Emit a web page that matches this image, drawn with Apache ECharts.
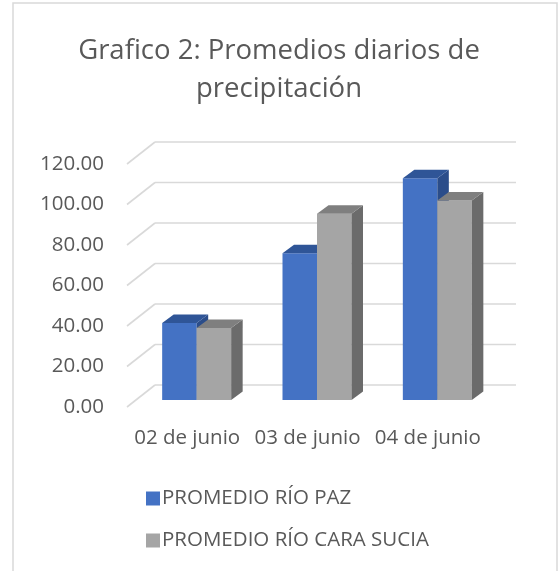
<!DOCTYPE html>
<html>
<head>
<meta charset="utf-8">
<script src="https://cdn.jsdelivr.net/npm/echarts@6/dist/echarts.min.js"></script>
<style>
  html, body { margin: 0; padding: 0; background: #fff; }
  #chart { width: 558px; height: 571px; }
</style>
</head>
<body>
<div id="chart"></div>
<script>
var categories = ['02 de junio', '03 de junio', '04 de junio'];
var rioPaz = [38.0, 72.5, 109.5];
var rioCaraSucia = [35.6, 92.0, 98.5];
var yTicks = [0, 20, 40, 60, 80, 100, 120];

var FONT = 'Open Sans';
var DEPTH_X = 28, DEPTH_Y = 22;   // side wall depth
var BAR_DX = 9.5, BAR_DY = 7;     // bar row sits a bit behind the front plane
var CAP_X = 11.5, CAP_Y = 8.5;    // bar depth
var BAR_W = 34.5;

var chart = echarts.init(document.getElementById('chart'));

function wallItem(params, api) {
    var cs = params.coordSys;
    var p = api.coord([0, api.value(0)]);
    var y = p[1];
    var style = { stroke: '#d9d9d9', lineWidth: 1.6, fill: null };
    return {
        type: 'group',
        children: [
            { type: 'line', shape: { x1: cs.x, y1: y, x2: cs.x + DEPTH_X, y2: y - DEPTH_Y }, style: style },
            { type: 'line', shape: { x1: cs.x + DEPTH_X, y1: y - DEPTH_Y, x2: cs.x + cs.width + DEPTH_X, y2: y - DEPTH_Y }, style: style }
        ]
    };
}

function barMaker(shift, front, top, side) {
    return function (params, api) {
        var top0 = api.coord([api.value(0), api.value(1)]);
        var base = api.coord([api.value(0), 0]);
        var x0 = top0[0] + BAR_DX + shift;
        var x1 = x0 + BAR_W;
        var yt = top0[1] - BAR_DY;
        var yb = base[1] - BAR_DY;
        return {
            type: 'group',
            children: [
                { type: 'polygon', shape: { points: [[x0, yt], [x1, yt], [x1, yb], [x0, yb]] }, style: { fill: front } },
                { type: 'polygon', shape: { points: [[x1, yt], [x1 + CAP_X, yt - CAP_Y], [x1 + CAP_X, yb - CAP_Y], [x1, yb]] }, style: { fill: side } },
                { type: 'polygon', shape: { points: [[x0, yt], [x1, yt], [x1 + CAP_X, yt - CAP_Y], [x0 + CAP_X, yt - CAP_Y]] }, style: { fill: top } }
            ]
        };
    };
}

var option = {
    animation: false,
    title: {
        text: 'Grafico 2: Promedios diarios de\nprecipitación',
        left: 'center',
        top: 27,
        textStyle: { fontFamily: FONT, fontSize: 27.5, fontWeight: 'normal', color: '#595959', lineHeight: 38 }
    },
    legend: {
        orient: 'vertical',
        left: 141,
        top: 483,
        itemGap: 21,
        itemWidth: 14,
        itemHeight: 14,
        icon: 'rect',
        data: ['PROMEDIO RÍO PAZ', 'PROMEDIO RÍO CARA SUCIA'],
        textStyle: { fontFamily: FONT, fontSize: 20.5, color: '#595959', padding: [0, 0, 0, -3] }
    },
    graphic: [{
        type: 'rect',
        shape: { x: 13, y: 3, width: 544, height: 620 },
        style: { fill: null, stroke: '#d9d9d9', lineWidth: 1.5 },
        silent: true
    }],
    grid: { left: 127, top: 164, width: 361, height: 243 },
    xAxis: {
        type: 'category',
        data: categories,
        axisLine: { show: false },
        axisTick: { show: false },
        axisLabel: { fontFamily: FONT, fontSize: 20.5, color: '#595959', margin: 21, interval: 0, hideOverlap: false }
    },
    yAxis: {
        type: 'value',
        min: 0,
        max: 120,
        interval: 20,
        axisLine: { show: false },
        axisTick: { show: false },
        splitLine: { show: false },
        axisLabel: { fontFamily: FONT, fontSize: 20.5, color: '#595959', margin: 23,
            formatter: function (v) { return v.toFixed(2); } }
    },
    series: [
        {
            type: 'custom',
            silent: true,
            renderItem: wallItem,
            data: yTicks.map(function (v) { return [v]; }),
            encode: { y: 0 },
            z: 1
        },
        {
            name: 'PROMEDIO RÍO PAZ',
            type: 'custom',
            itemStyle: { color: '#4472c4' },
            renderItem: barMaker(-BAR_W, '#4472c4', '#2f5597', '#2b4d8a'),
            data: rioPaz.map(function (v, i) { return [i, v]; }),
            encode: { x: 0, y: 1 },
            z: 2
        },
        {
            name: 'PROMEDIO RÍO CARA SUCIA',
            type: 'custom',
            itemStyle: { color: '#a5a5a5' },
            renderItem: barMaker(0, '#a5a5a5', '#7f7f7f', '#6b6b6b'),
            data: rioCaraSucia.map(function (v, i) { return [i, v]; }),
            encode: { x: 0, y: 1 },
            z: 3
        }
    ]
};

chart.setOption(option);
</script>
</body>
</html>
